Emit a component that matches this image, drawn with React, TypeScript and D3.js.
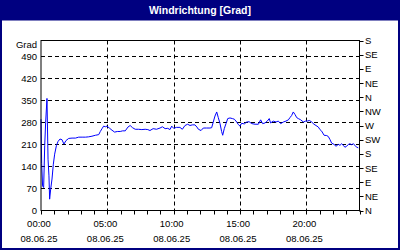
import React from "react";
import * as d3 from "d3";

const hours: number[] = [
  0, 0.05, 0.12, 0.2, 0.28, 0.35, 0.45, 0.53, 0.6, 0.65, 0.73, 0.83, 0.93, 1.03, 1.16, 1.28, 1.43, 1.58, 1.73, 1.88,
  2.09, 2.34, 2.6, 2.84, 3.1, 3.35, 3.59, 3.84, 4.1, 4.35, 4.47, 4.6, 4.72, 4.85, 4.97, 5.15, 5.35, 5.55, 5.75, 5.97,
  6.15, 6.35, 6.55, 6.72, 6.9, 7.1, 7.35, 7.6, 7.85, 8.05, 8.21, 8.45, 8.7, 8.97, 9.15, 9.35, 9.55, 9.72, 9.85, 10.0,
  10.2, 10.47, 10.65, 10.85, 11.05, 11.23, 11.4, 11.6, 11.75, 11.86, 12.06, 12.23, 12.48, 12.73, 12.86, 12.98, 13.11,
  13.24, 13.36, 13.49, 13.61, 13.69, 13.81, 13.94, 14.07, 14.24, 14.42, 14.57, 14.75, 14.87, 15.0, 15.12, 15.32, 15.5,
  15.68, 15.88, 16.13, 16.38, 16.55, 16.7, 16.88, 17.05, 17.2, 17.3, 17.5, 17.71, 17.88, 18.06, 18.26, 18.46, 18.64,
  18.76, 18.89, 19.01, 19.14, 19.27, 19.39, 19.57, 19.77, 19.94, 20.07, 20.22, 20.4, 20.57, 20.72, 20.9, 21.02, 21.15,
  21.33, 21.53, 21.65, 21.78, 21.9, 22.08, 22.23, 22.4, 22.53, 22.65, 22.78, 22.9, 23.03, 23.16, 23.28, 23.41, 23.53,
  23.66, 23.78, 23.91,
];

const degrees: number[] = [
  290, 150, 78, 73, 206, 280, 356, 163, 110, 36, 68, 100, 147, 179, 206, 219, 227, 225, 211, 222,
  229, 230, 230, 233, 233, 233, 234, 236, 239, 241, 251, 260, 268, 266, 268, 262, 255, 249, 251, 251,
  253, 253, 265, 270, 263, 258, 258, 257, 258, 257, 254, 260, 258, 262, 266, 260, 261, 257, 268, 261,
  264, 264, 258, 270, 274, 270, 272, 272, 265, 258, 254, 262, 262, 262, 263, 281, 300,
  313, 295, 276, 251, 239, 260, 276, 292, 294, 292, 290, 281, 273, 268, 277, 275, 281,
  282, 276, 274, 274, 288, 276, 278, 284, 292, 278, 284, 281, 284, 276, 281, 284, 288,
  295, 302, 313, 305, 295, 292, 288, 281, 284, 284, 286, 281, 274, 270, 265, 257, 252,
  239, 238, 235, 225, 214, 210, 204, 210, 207, 212, 207, 201, 204, 210, 212, 209, 212,
  207, 201, 199,
];

const leftTicks: number[] = [0, 70, 140, 210, 280, 350, 420, 490];
const rightTicks: number[] = [0, 45, 90, 135, 180, 225, 270, 315, 360, 405, 450, 495, 540];
const rightLabels: string[] = ["N", "NE", "E", "SE", "S", "SW", "W", "NW", "N", "NE", "E", "SE", "S"];
const timeTicks: number[] = [0, 5, 10, 15, 20];
const timeLabels: string[] = ["00:00", "05:00", "10:00", "15:00", "20:00"];
const dateLabel = "08.06.25";
const title = "Windrichtung [Grad]";
const unit = "Grad";

const W = 400;
const H = 250;
const NAVY = "#000080";
const FONT = "'Liberation Sans', Arial, sans-serif";

export default function App() {
  const x = d3.scaleLinear().domain([0, 24]).range([41, 359.5]);
  const y = d3.scaleLinear().domain([0, 540]).range([210.5, 40.5]);
  const hourTicks = d3.range(0, 25);
  const line = d3
    .line<number>()
    .x((_, i) => x(hours[i]))
    .y((d) => y(d));
  const path = line(degrees) || "";

  return (
    <svg
      width={W}
      height={H}
      style={{ position: "absolute", left: 0, top: 0, display: "block" }}
      fontFamily={FONT}
    >
      <rect x={0} y={0} width={W} height={H} fill="#fff" />
      <rect x={1} y={1} width={W - 2} height={H - 2} fill="none" stroke={NAVY} strokeWidth={2} />
      <rect x={0} y={0} width={W} height={20.5} fill={NAVY} />
      <text x={W / 2} y={14} textAnchor="middle" fill="#fff" fontSize={10.5} fontWeight="bold">
        {title}
      </text>

      {/* grid */}
      {leftTicks.filter((v) => v > 0).map((v) => (
        <line key={"gy" + v} x1={x(0)} x2={x(24)} y1={Math.round(y(v)) + 0.5} y2={Math.round(y(v)) + 0.5}
          stroke="#000" strokeWidth={1} strokeDasharray="4,3" />
      ))}
      {timeTicks.filter((t) => t > 0).map((t) => (
        <line key={"gx" + t} x1={Math.round(x(t)) + 0.5} x2={Math.round(x(t)) + 0.5} y1={y(540)} y2={y(0)}
          stroke="#000" strokeWidth={1} strokeDasharray="4,3" />
      ))}

      {/* data */}
      <path d={path} fill="none" stroke="#0000ff" strokeWidth={1} />

      {/* frame */}
      <rect x={x(0)} y={y(540)} width={x(24) - x(0)} height={y(0) - y(540)} fill="none" stroke="#000" strokeWidth={1} />

      {/* x ticks */}
      {hourTicks.map((h) => (
        <line key={"xt" + h} x1={Math.round(x(h)) + 0.5} x2={Math.round(x(h)) + 0.5} y1={y(0)} y2={y(0) + 4}
          stroke="#000" strokeWidth={1} />
      ))}
      {timeTicks.map((t, i) => (
        <g key={"xl" + t}>
          <text x={x(t) - 2} y={227} textAnchor="middle" fontSize={9.5} fill="#000">
            {timeLabels[i]}
          </text>
          <text x={x(t) - 2} y={242} textAnchor="middle" fontSize={9.5} fill="#000">
            {dateLabel}
          </text>
        </g>
      ))}

      {/* left labels */}
      {leftTicks.map((v) => (
        <text key={"yl" + v} x={37} y={y(v) + 3.5} textAnchor="end" fontSize={9.5} fill="#000">
          {v}
        </text>
      ))}
      <text x={37} y={48} textAnchor="end" fontSize={9.5} fill="#000">
        {unit}
      </text>

      {/* right axis */}
      {rightTicks.map((v, i) => (
        <g key={"yr" + v}>
          <line x1={x(24)} x2={x(24) + 4} y1={Math.round(y(v)) + 0.5} y2={Math.round(y(v)) + 0.5} stroke="#000" />
          <text x={365} y={y(v) + 3.5} fontSize={9.5} fill="#000">
            {rightLabels[i]}
          </text>
        </g>
      ))}
    </svg>
  );
}
